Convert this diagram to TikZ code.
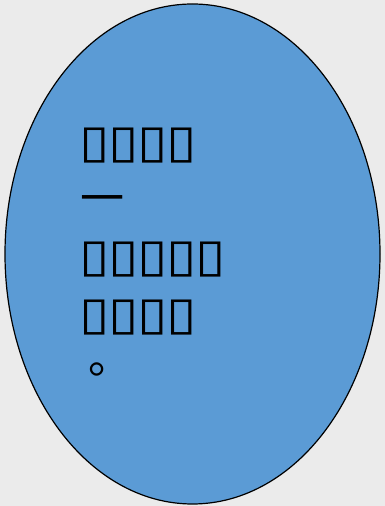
\documentclass[tikz,border=0pt]{standalone}
\usepackage{fontspec}
\usetikzlibrary{shapes.geometric, positioning}
\newfontfamily\cjk{Noto Sans CJK SC}
\newfontfamily\tofu[FakeStretch=1.2]{DejaVu Sans}
\definecolor{bubbleblue}{HTML}{5B9BD5}
\definecolor{pagegray}{HTML}{EBEBEB}
% one missing-glyph box, on a fixed pitch
\newcommand{\tbox}{\makebox[29pt][l]{\tofu\fontsize{46}{46}\selectfont ▯}}

\begin{document}
\begin{tikzpicture}[x=1pt, y=1pt,
    bubble/.style={ellipse, draw=black, fill=bubbleblue, line width=1.2pt, minimum width=375pt, minimum height=500pt, inner sep=0pt},
    row/.style={anchor=base west, inner sep=0pt, font=\cjk\fontsize{44}{44}\selectfont}
]

% Background
\fill[pagegray] (0,0) rectangle (385,506);
\useasboundingbox (0,0) rectangle (385,506);

% Nodes
\node[bubble] (oval) at (192.5,252) {};
\node[row] (r1) at (79,348) {\tbox\tbox\tbox\tbox};
\node[row] (r2) at (80,291) {一};
\node[row] (r3) at (79,234) {\tbox\tbox\tbox\tbox\tbox};
\node[row] (r4) at (79,176) {\tbox\tbox\tbox\tbox};
\node[row, text height=14pt, text depth=0pt] (r5) at (88,132) {。};

\end{tikzpicture}
\end{document}
